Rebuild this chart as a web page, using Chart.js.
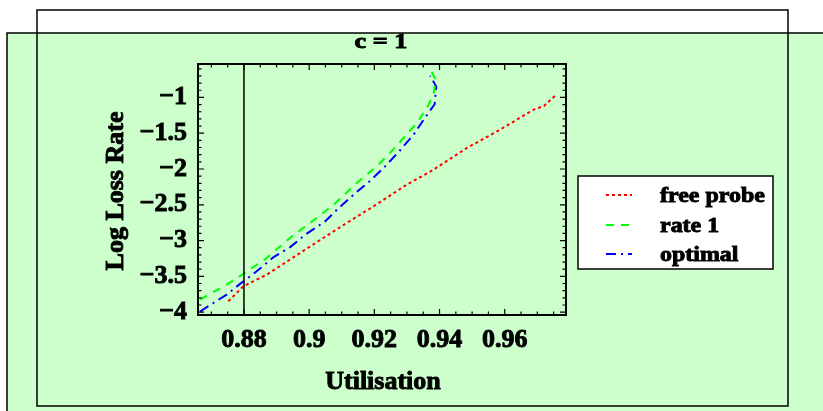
<!DOCTYPE html>
<html><head><meta charset="utf-8">
<script src="https://cdn.jsdelivr.net/npm/chart.js@4"></script>
<style>html,body{margin:0;padding:0;background:#fff;overflow:hidden}#wrap{width:823px;height:411px;position:relative}</style>
</head><body><div id="wrap"><canvas id="c" width="823" height="411"></canvas></div>
<script>
// ---- data ----
const chartTitle = 'c = 1';
const xAxisTitle = 'Utilisation';
const yAxisTitle = 'Log Loss Rate';
const seriesNames = ['free probe', 'rate 1', 'optimal'];
const xTickValues = [0.88, 0.9, 0.92, 0.94, 0.96];
const xTickLabels = ['0.88', '0.9', '0.92', '0.94', '0.96'];
const yTickValues = [-4, -3.5, -3, -2.5, -2, -1.5, -1];
const yTickLabels = ['\u22124', '\u22123.5', '\u22123', '\u22122.5', '\u22122', '\u22121.5', '\u22121'];
const xRange = [0.8659, 0.9788];
const yRange = [-4.04, -0.533];
const markerX = 0.88;

const freeProbeX = [0.8752, 0.8798, 0.8870, 0.8941, 0.9043, 0.9115, 0.9197, 0.9299, 0.9381, 0.9483, 0.9585, 0.9687, 0.9720, 0.9754];
const freeProbeY = [-3.848, -3.639, -3.476, -3.266, -2.964, -2.755, -2.523, -2.220, -2.011, -1.709, -1.453, -1.174, -1.12, -0.979];
const rate1X = [0.8665, 0.8747, 0.8798, 0.8870, 0.8941, 0.9023, 0.9075, 0.9146, 0.9207, 0.9248, 0.9289, 0.9330, 0.9361, 0.9381, 0.9389, 0.9371];
const rate1Y = [-3.824, -3.615, -3.466, -3.243, -2.964, -2.685, -2.499, -2.197, -1.965, -1.778, -1.569, -1.360, -1.151, -0.965, -0.756, -0.603];
const optimalX = [0.8665, 0.8747, 0.8788, 0.8839, 0.8890, 0.8941, 0.8988, 0.9049, 0.9085, 0.9136, 0.9187, 0.9228, 0.9274, 0.9320, 0.9351, 0.9385, 0.9390, 0.9371];
const optimalY = [-3.992, -3.755, -3.605, -3.430, -3.234, -3.095, -2.918, -2.732, -2.569, -2.360, -2.165, -1.987, -1.764, -1.523, -1.314, -1.095, -0.849, -0.696];

// ---- styles ----
const GREEN_BG = '#ccffcc';
const FONT = '"Liberation Serif", "Times New Roman", serif';

function pts(xs, ys) { return xs.map((x, i) => ({ x: x, y: ys[i] })); }

function heavyText(ctx, txt, x, y) {
  ctx.lineWidth = 0.9;
  ctx.strokeStyle = '#000';
  ctx.strokeText(txt, x, y);
  ctx.fillText(txt, x, y);
}

const deco = {
  id: 'deco',
  beforeDraw(chart) {
    const ctx = chart.ctx;
    ctx.save();
    ctx.fillStyle = '#ffffff';
    ctx.fillRect(0, 0, chart.width, chart.height);
    ctx.fillStyle = GREEN_BG;
    ctx.fillRect(7, 33, chart.width, chart.height);
    ctx.strokeStyle = '#000';
    ctx.lineWidth = 1.5;
    ctx.beginPath();
    ctx.moveTo(7, chart.height + 2); ctx.lineTo(7, 33); ctx.lineTo(chart.width + 2, 33);
    ctx.stroke();
    ctx.strokeRect(37, 10, 751, 396);
    ctx.restore();
  },
  afterDatasetsDraw(chart) {
    const ctx = chart.ctx;
    const ca = chart.chartArea;
    const xs = chart.scales.x, ys = chart.scales.y;
    ctx.save();
    ctx.strokeStyle = '#000';
    ctx.lineWidth = 1.5;
    const mx = xs.getPixelForValue(markerX);
    ctx.beginPath(); ctx.moveTo(mx, ca.top); ctx.lineTo(mx, ca.bottom); ctx.stroke();
    ctx.lineWidth = 1.2;
    ctx.beginPath();
    for (let k = 174; k <= 195; k++) {
      const v = k * 0.005;
      const px = xs.getPixelForValue(v);
      if (px <= ca.left + 1 || px >= ca.right - 1) continue;
      const major = k % 4 === 0;
      const len = major ? 6 : 3.5;
      ctx.moveTo(px, ca.bottom); ctx.lineTo(px, ca.bottom - len);
      ctx.moveTo(px, ca.top); ctx.lineTo(px, ca.top + len);
    }
    for (let k = -40; k <= -5; k++) {
      const v = k * 0.1;
      const py = ys.getPixelForValue(v);
      if (py <= ca.top + 1 || py >= ca.bottom - 1) continue;
      const major = k % 5 === 0;
      const len = major ? 6 : 3.5;
      ctx.moveTo(ca.left, py); ctx.lineTo(ca.left + len, py);
      ctx.moveTo(ca.right, py); ctx.lineTo(ca.right - len, py);
    }
    ctx.stroke();
    ctx.lineWidth = 2;
    ctx.strokeRect(ca.left, ca.top, ca.right - ca.left, ca.bottom - ca.top);
    ctx.restore();
  },
  afterDraw(chart) {
    const ctx = chart.ctx;
    ctx.save();
    ctx.fillStyle = '#000';
    ctx.font = 'bold 21px ' + FONT;
    ctx.textAlign = 'center';
    ctx.textBaseline = 'alphabetic';
    ctx.save(); ctx.translate(381, 48); ctx.scale(1.25, 1); heavyText(ctx, chartTitle, 0, 0); ctx.restore();
    ctx.font = 'bold 26px ' + FONT;
    heavyText(ctx, xAxisTitle, 383, 389);
    ctx.save(); ctx.translate(123, 191); ctx.rotate(-Math.PI / 2); heavyText(ctx, yAxisTitle, 0, 0); ctx.restore();
    const bx = 578, by = 176, bw = 195, bh = 93;
    ctx.fillStyle = '#fff';
    ctx.fillRect(bx, by, bw, bh);
    ctx.strokeStyle = '#000'; ctx.lineWidth = 1.5;
    ctx.strokeRect(bx, by, bw, bh);
    const baselines = [202, 232, 261];
    chart.data.datasets.forEach((ds, i) => {
      const yb = baselines[i];
      ctx.save();
      ctx.strokeStyle = ds.borderColor; ctx.lineWidth = 2;
      ctx.setLineDash(ds.borderDash || []);
      ctx.beginPath(); ctx.moveTo(606, yb - 7); ctx.lineTo(632, yb - 7); ctx.stroke();
      ctx.restore();
      ctx.save();
      ctx.fillStyle = '#000';
      ctx.font = 'bold 21px ' + FONT;
      ctx.textAlign = 'left';
      ctx.textBaseline = 'alphabetic';
      ctx.translate(660, yb); ctx.scale(1.14, 1);
      heavyText(ctx, ds.label, 0, 0);
      ctx.restore();
    });
    ctx.restore();
  }
};

new Chart(document.getElementById('c'), {
  type: 'scatter',
  data: {
    datasets: [
      { label: seriesNames[0], data: pts(freeProbeX, freeProbeY), borderColor: '#ff0000', backgroundColor: '#ff0000', borderDash: [3, 3], borderWidth: 2, showLine: true, pointRadius: 0, tension: 0 },
      { label: seriesNames[1], data: pts(rate1X, rate1Y), borderColor: '#00ff00', backgroundColor: '#00ff00', borderDash: [8, 7], borderWidth: 2, showLine: true, pointRadius: 0, tension: 0 },
      { label: seriesNames[2], data: pts(optimalX, optimalY), borderColor: '#0000ff', backgroundColor: '#0000ff', borderDash: [10, 5, 2, 5], borderWidth: 2, showLine: true, pointRadius: 0, tension: 0 }
    ]
  },
  options: {
    responsive: false,
    devicePixelRatio: 1,
    animation: false,
    layout: { padding: { left: 0, right: 257, top: 64, bottom: 0 } },
    plugins: { legend: { display: false }, title: { display: false }, tooltip: { enabled: false } },
    scales: {
      x: {
        type: 'linear', min: xRange[0], max: xRange[1],
        afterBuildTicks: (s) => { s.ticks = xTickValues.map(v => ({ value: v })); },
        afterFit: (s) => { s.height = 96; },
        grid: { display: false, drawTicks: false },
        border: { display: false },
        ticks: {
          padding: 10, color: '#000', font: { family: FONT, size: 26, weight: 'bold' },
          textStrokeColor: '#000', textStrokeWidth: 0.9,
          maxRotation: 0, autoSkip: false,
          callback: (v) => { const i = xTickValues.findIndex(t => Math.abs(t - v) < 1e-9); return i >= 0 ? xTickLabels[i] : ''; }
        }
      },
      y: {
        type: 'linear', min: yRange[0], max: yRange[1],
        afterBuildTicks: (s) => { s.ticks = yTickValues.map(v => ({ value: v })); },
        afterFit: (s) => { s.width = 198; },
        grid: { display: false, drawTicks: false },
        border: { display: false },
        ticks: {
          padding: 11, color: '#000', font: { family: FONT, size: 26, weight: 'bold' },
          textStrokeColor: '#000', textStrokeWidth: 0.9,
          autoSkip: false,
          callback: (v) => { const i = yTickValues.findIndex(t => Math.abs(t - v) < 1e-9); return i >= 0 ? yTickLabels[i] : ''; }
        }
      }
    }
  },
  plugins: [deco]
});
</script>
</body></html>
